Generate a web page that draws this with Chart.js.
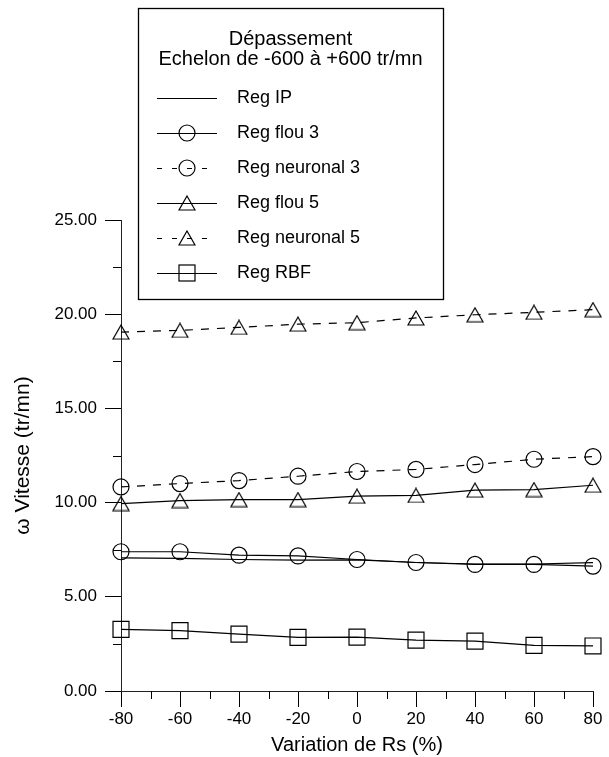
<!DOCTYPE html>
<html><head><meta charset="utf-8">
<script src="https://cdn.jsdelivr.net/npm/chart.js@4.4.0/dist/chart.umd.min.js"></script>
<style>html,body{margin:0;padding:0;background:#fff}#wrap{width:609px;height:757px}</style>
</head><body><div id="wrap"><canvas id="c" width="609" height="757"></canvas></div>
<script>
// ---- data ----
const rsVariation   = [-80, -60, -40, -20, 0, 20, 40, 60, 80];
const regIP         = [7.07, 7.04, 6.98, 6.95, 6.96, 6.82, 6.74, 6.74, 6.81];
const regFlou3      = [7.39, 7.39, 7.21, 7.17, 6.98, 6.82, 6.72, 6.72, 6.63];
const regNeuronal3  = [10.83, 11.01, 11.17, 11.40, 11.65, 11.76, 12.02, 12.30, 12.44];
const regFlou5      = [9.95, 10.11, 10.16, 10.16, 10.34, 10.38, 10.66, 10.69, 10.92];
const regNeuronal5  = [19.05, 19.14, 19.30, 19.47, 19.55, 19.80, 19.97, 20.10, 20.24];
const regRBF        = [3.27, 3.20, 3.02, 2.85, 2.86, 2.70, 2.65, 2.42, 2.39];
const seriesLabels  = ['Reg IP', 'Reg flou 3', 'Reg neuronal 3', 'Reg flou 5', 'Reg neuronal 5', 'Reg RBF'];
const legendTitle   = ['Dépassement', 'Echelon de -600 à +600 tr/mn'];
const xTitle = 'Variation de Rs (%)';
const yTitle = 'ω Vitesse (tr/mn)';
const yMinorTicks = [2.5, 7.5, 12.5, 17.5, 22.5];
const xMinorTicks = [-70, -50, -30, -10, 10, 30, 50, 70];

const FONT = '"Liberation Sans", Arial, Helvetica, sans-serif';

function triCanvas() {
  const c = document.createElement('canvas');
  c.width = 18; c.height = 16;
  const g = c.getContext('2d');
  g.strokeStyle = '#000'; g.lineWidth = 1.2;
  g.beginPath(); g.moveTo(9, 1); g.lineTo(17, 15); g.lineTo(1, 15); g.closePath(); g.stroke();
  return c;
}
const TRI = triCanvas();

function pts(arr) { return rsVariation.map((x, i) => ({x, y: arr[i]})); }

const DASH = [8, 8];
function ds(label, arr, style, radius, dashed) {
  return {
    label, data: pts(arr),
    borderColor: '#000', borderWidth: 1.2, borderDash: dashed ? DASH : [],
    pointStyle: style, pointRadius: radius, pointHoverRadius: radius,
    pointBorderColor: '#000', pointBackgroundColor: 'rgba(0,0,0,0)', pointBorderWidth: 1.2,
    tension: 0, clip: false, fill: false
  };
}

const datasets = [
  ds(seriesLabels[0], regIP, 'circle', 0, false),
  ds(seriesLabels[1], regFlou3, 'circle', 8, false),
  ds(seriesLabels[2], regNeuronal3, 'circle', 8, true),
  ds(seriesLabels[3], regFlou5, TRI, 8, false),
  ds(seriesLabels[4], regNeuronal5, TRI, 8, true),
  ds(seriesLabels[5], regRBF, 'rect', 11.3, false)
];

const minorTicks = {
  id: 'minorTicks',
  afterDraw(chart) {
    const ctx = chart.ctx, xs = chart.scales.x, ys = chart.scales.y, a = chart.chartArea;
    ctx.save(); ctx.strokeStyle = '#000'; ctx.lineWidth = 1;
    ctx.beginPath();
    yMinorTicks.forEach(v => { const p = Math.round(ys.getPixelForValue(v)) + 0.5; ctx.moveTo(a.left - 8, p); ctx.lineTo(a.left, p); });
    xMinorTicks.forEach(v => { const p = Math.round(xs.getPixelForValue(v)) + 0.5; ctx.moveTo(p, a.bottom); ctx.lineTo(p, a.bottom + 8); });
    ctx.stroke(); ctx.restore();
  }
};

const boxLegend = {
  id: 'boxLegend',
  afterDraw(chart) {
    const ctx = chart.ctx;
    ctx.save();
    ctx.fillStyle = '#fff'; ctx.fillRect(138, 8, 305, 291);
    ctx.strokeStyle = '#000'; ctx.lineWidth = 1.3; ctx.setLineDash([]);
    ctx.strokeRect(138.5, 8.5, 305, 291);
    ctx.fillStyle = '#000'; ctx.textAlign = 'center'; ctx.textBaseline = 'middle';
    ctx.font = '20px ' + FONT;
    ctx.fillText(legendTitle[0], 290.5, 39);
    ctx.fillText(legendTitle[1], 290.5, 59);
    ctx.font = '18px ' + FONT; ctx.textAlign = 'left';
    chart.data.datasets.forEach((d, i) => {
      const y = 98 + i * 35;
      ctx.strokeStyle = '#000'; ctx.lineWidth = 1.2;
      ctx.setLineDash(d.borderDash.length ? [5, 10] : []);
      ctx.beginPath(); ctx.moveTo(157, y + 0.5); ctx.lineTo(217, y + 0.5); ctx.stroke();
      ctx.setLineDash([]);
      if (d.pointRadius > 0) {
        if (d.pointStyle === TRI) {
          ctx.drawImage(TRI, 187 - 9, y - 8);
        } else if (d.pointStyle === 'circle') {
          ctx.beginPath(); ctx.arc(187, y, d.pointRadius, 0, Math.PI * 2); ctx.stroke();
        } else {
          ctx.strokeRect(179, y - 8, 16, 16);
        }
      }
      ctx.fillText(d.label, 237, y);
    });
    ctx.restore();
  }
};

new Chart(document.getElementById('c'), {
  type: 'line',
  data: { datasets },
  options: {
    responsive: false, animation: false, devicePixelRatio: 1,
    layout: { padding: { top: 220, right: 16, left: 0, bottom: 0 } },
    plugins: { legend: { display: false }, tooltip: { enabled: false } },
    scales: {
      x: {
        type: 'linear', min: -80, max: 80,
        afterFit(s) { s.height = 66; },
        ticks: { stepSize: 20, color: '#000', font: { family: FONT, size: 17 }, padding: 2, maxRotation: 0 },
        grid: { drawOnChartArea: false, drawTicks: true, tickLength: 16, color: '#000', tickColor: '#000' },
        border: { display: true, color: '#222', width: 1 },
        title: { display: true, text: xTitle, color: '#000', font: { family: FONT, size: 20 }, padding: { top: 0, bottom: 0 } }
      },
      y: {
        type: 'linear', min: 0, max: 25,
        afterFit(s) { s.width = 121; },
        ticks: { stepSize: 5, color: '#000', font: { family: FONT, size: 17 }, padding: 8, callback: v => v.toFixed(2) },
        grid: { drawOnChartArea: false, drawTicks: true, tickLength: 16, color: '#000', tickColor: '#000' },
        border: { display: true, color: '#222', width: 1 },
        title: { display: true, text: yTitle, color: '#000', font: { family: FONT, size: 21 }, padding: { top: 11, bottom: 0 } }
      }
    }
  },
  plugins: [minorTicks, boxLegend]
});
</script>
</body></html>
